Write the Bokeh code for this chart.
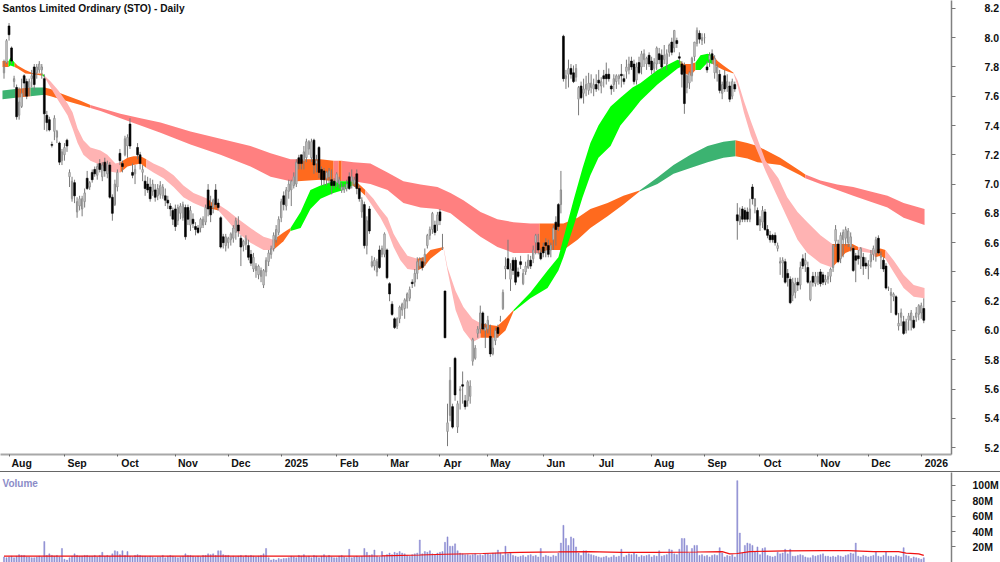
from bokeh.plotting import figure
from bokeh.layouts import column
from bokeh.models import FixedTicker, Range1d, Label
from bokeh.embed import file_html
from bokeh.resources import INLINE

opens = [
7.76,7.83,8.08,7.93,7.70,7.66,7.47,7.53,7.74,7.70,
7.66,7.72,7.80,7.76,7.78,7.78,7.72,7.47,7.44,7.27,
7.36,7.32,7.28,7.16,7.20,7.30,7.05,6.90,7.01,6.81,
6.85,6.83,6.88,7.04,6.98,7.08,7.10,7.06,7.14,7.05,
7.15,7.07,7.13,6.91,6.86,6.98,7.21,7.14,7.20,7.26,
7.41,7.08,7.07,7.25,7.20,7.08,7.02,7.00,6.98,6.95,
6.96,6.92,6.93,6.92,6.92,6.89,6.85,6.82,6.83,6.75,
6.80,6.77,6.84,6.84,6.72,6.76,6.71,6.70,6.70,6.72,
6.74,6.96,6.85,6.84,6.96,6.87,6.77,6.64,6.58,6.60,
6.62,6.63,6.67,6.72,6.63,6.58,6.59,6.58,6.52,6.42,
6.41,6.38,6.37,6.31,6.40,6.47,6.52,6.56,6.62,6.67,
6.77,6.92,6.85,6.95,6.96,6.99,7.00,7.18,7.20,7.16,
7.18,7.24,7.18,7.30,7.14,7.25,7.10,7.09,7.04,7.05,
7.03,7.02,7.01,7.00,6.96,6.96,6.97,7.05,7.02,7.00,
7.07,6.97,6.81,6.86,6.58,6.83,6.44,6.44,6.40,6.55,
6.52,6.52,6.55,6.32,6.18,6.08,6.03,6.08,6.14,6.15,
6.20,6.22,6.33,6.33,6.39,6.44,6.47,6.47,6.58,6.65,
6.69,6.72,6.72,6.81,6.56,6.27,5.31,5.42,5.48,5.81,
5.34,5.59,5.63,5.52,5.52,5.55,5.79,5.81,5.98,6.01,
6.12,6.00,6.01,5.96,5.84,5.93,6.02,6.07,6.15,6.42,
6.49,6.35,6.48,6.48,6.40,6.47,6.32,6.40,6.43,6.48,
6.49,6.60,6.60,6.53,6.57,6.60,6.58,6.55,6.62,6.74,
6.86,6.86,8.01,7.72,7.75,7.79,7.76,7.73,7.58,7.67,
7.62,7.65,7.64,7.66,7.65,7.68,7.71,7.67,7.74,7.75,
7.75,7.67,7.68,7.70,7.72,7.75,7.72,7.77,7.78,7.84,
7.82,7.71,7.83,7.80,7.85,7.82,7.88,7.84,7.79,7.82,
7.89,7.88,7.85,7.82,7.90,7.97,7.93,7.98,7.87,7.82,
7.81,7.66,7.69,7.74,7.87,7.96,8.03,7.98,8.00,7.80,
7.85,7.89,7.76,7.76,7.75,7.62,7.74,7.66,7.67,7.60,
7.68,6.79,6.74,6.83,6.82,6.81,6.76,6.98,6.85,6.82,
6.72,6.74,6.81,6.69,6.65,6.65,6.65,6.56,6.46,6.46,
6.47,6.39,6.35,6.24,6.26,6.33,6.31,6.49,6.45,6.43,
6.21,6.37,6.32,6.33,6.40,6.38,6.33,6.35,6.37,6.43,
6.61,6.59,6.49,6.62,6.63,6.60,6.57,6.56,6.51,6.51,
6.50,6.50,6.46,6.44,6.47,6.52,6.53,6.63,6.50,6.48,
6.44,6.29,6.24,6.23,6.23,6.03,6.09,6.06,6.00,6.07,
6.07,6.07,6.09,6.11,6.12,6.15]

highs = [
7.85,7.99,8.10,7.94,7.74,7.68,7.66,7.72,7.75,7.72,
7.72,7.78,7.82,7.82,7.84,7.82,7.75,7.50,7.46,7.29,
7.47,7.37,7.29,7.24,7.28,7.31,7.10,7.05,7.03,6.91,
6.92,6.92,6.97,7.09,7.02,7.10,7.12,7.14,7.17,7.15,
7.18,7.16,7.15,6.93,7.03,7.10,7.24,7.16,7.33,7.34,
7.45,7.14,7.13,7.28,7.22,7.13,7.06,7.05,7.04,7.03,
7.00,7.00,7.02,7.00,6.97,6.92,6.87,6.84,6.86,6.86,
6.87,6.88,6.86,6.86,6.85,6.80,6.74,6.72,6.77,6.78,
6.86,7.00,6.92,6.90,7.00,6.90,6.78,6.66,6.66,6.64,
6.67,6.72,6.77,6.78,6.65,6.62,6.65,6.62,6.55,6.53,
6.46,6.45,6.43,6.42,6.50,6.55,6.58,6.67,6.72,6.78,
6.90,6.95,6.98,7.03,7.03,7.08,7.17,7.20,7.20,7.26,
7.31,7.30,7.31,7.31,7.20,7.26,7.12,7.11,7.09,7.11,
7.10,7.04,7.08,7.05,7.01,7.00,7.03,7.08,7.10,7.05,
7.10,6.99,6.91,6.88,6.78,6.85,6.51,6.50,6.49,6.58,
6.58,6.67,6.56,6.33,6.20,6.09,6.09,6.17,6.19,6.22,
6.26,6.30,6.35,6.42,6.50,6.50,6.50,6.56,6.66,6.71,
6.81,6.75,6.81,6.83,6.66,6.27,5.50,5.75,5.50,5.82,
5.52,5.62,5.72,5.56,5.66,5.66,5.95,5.90,6.03,6.17,
6.13,6.05,6.10,6.04,5.95,6.02,6.04,6.10,6.28,6.50,
6.62,6.46,6.50,6.50,6.43,6.51,6.42,6.47,6.52,6.51,
6.58,6.66,6.66,6.56,6.60,6.63,6.62,6.60,6.72,6.78,
6.87,7.09,8.02,7.78,7.85,7.82,7.81,7.82,7.67,7.70,
7.72,7.74,7.76,7.75,7.72,7.75,7.78,7.73,7.78,7.83,
7.79,7.68,7.75,7.75,7.75,7.82,7.75,7.85,7.87,7.87,
7.85,7.83,7.87,7.91,7.92,7.87,7.90,7.87,7.86,7.94,
7.93,7.92,7.95,7.92,7.96,8.00,8.05,8.00,7.90,7.84,
7.83,7.75,7.77,7.87,7.97,8.07,8.05,8.03,8.03,7.84,
7.90,7.92,7.88,7.82,7.78,7.70,7.78,7.75,7.70,7.72,
7.70,6.87,6.84,6.85,6.84,6.84,6.90,7.00,6.90,6.84,
6.78,6.85,6.83,6.72,6.68,6.66,6.67,6.60,6.50,6.50,
6.49,6.42,6.37,6.36,6.36,6.36,6.47,6.52,6.53,6.47,
6.34,6.40,6.40,6.40,6.42,6.40,6.38,6.40,6.43,6.59,
6.72,6.62,6.67,6.69,6.71,6.70,6.67,6.58,6.53,6.55,
6.57,6.53,6.50,6.48,6.55,6.58,6.64,6.65,6.54,6.50,
6.46,6.30,6.29,6.26,6.24,6.12,6.15,6.10,6.08,6.12,
6.14,6.10,6.16,6.18,6.19,6.22]

lows = [
7.72,7.82,7.98,7.82,7.66,7.44,7.44,7.52,7.60,7.58,
7.60,7.66,7.64,7.72,7.76,7.72,7.37,7.36,7.36,7.25,
7.30,7.28,7.13,7.13,7.16,7.22,6.98,6.88,6.87,6.77,
6.82,6.78,6.84,6.96,6.96,7.01,7.05,7.03,7.08,7.02,
7.05,7.04,6.90,6.75,6.85,6.95,7.13,7.08,7.19,7.18,
7.24,7.04,7.00,7.17,7.10,7.02,6.92,6.94,6.88,6.92,
6.88,6.89,6.90,6.90,6.85,6.83,6.78,6.72,6.68,6.72,
6.76,6.75,6.62,6.72,6.68,6.70,6.65,6.66,6.67,6.70,
6.72,6.78,6.74,6.80,6.84,6.82,6.56,6.56,6.54,6.56,
6.58,6.60,6.62,6.64,6.44,6.54,6.55,6.48,6.44,6.40,
6.36,6.35,6.33,6.29,6.37,6.44,6.49,6.54,6.60,6.65,
6.74,6.82,6.82,6.90,6.85,6.97,6.98,7.10,7.10,7.10,
7.15,7.20,7.15,7.07,7.08,7.04,6.99,6.99,6.99,7.00,
6.93,6.97,6.98,6.97,6.94,6.94,6.95,6.96,6.97,6.98,
6.93,6.88,6.77,6.56,6.52,6.66,6.43,6.41,6.37,6.42,
6.50,6.50,6.35,6.20,6.10,6.01,6.01,6.05,6.10,6.08,
6.15,6.20,6.29,6.30,6.35,6.42,6.41,6.44,6.56,6.62,
6.66,6.65,6.68,6.72,6.55,5.95,5.21,5.38,5.33,5.52,
5.30,5.46,5.50,5.46,5.48,5.50,5.76,5.80,5.95,5.98,
6.00,5.88,5.98,5.82,5.83,5.90,5.95,6.06,6.14,6.35,
6.42,6.27,6.38,6.31,6.36,6.42,6.31,6.38,6.42,6.42,
6.46,6.52,6.52,6.48,6.50,6.50,6.50,6.50,6.55,6.58,
6.68,6.80,7.70,7.65,7.66,7.72,7.69,7.70,7.47,7.58,
7.55,7.60,7.61,7.62,7.60,7.63,7.64,7.62,7.66,7.68,
7.70,7.61,7.63,7.65,7.68,7.66,7.68,7.72,7.75,7.78,
7.68,7.68,7.75,7.75,7.80,7.78,7.80,7.75,7.76,7.78,
7.82,7.78,7.82,7.78,7.87,7.88,7.90,7.93,7.82,7.66,
7.48,7.62,7.65,7.70,7.84,7.94,7.96,7.95,7.96,7.76,
7.80,7.82,7.72,7.70,7.62,7.58,7.63,7.63,7.56,7.58,
7.63,6.62,6.72,6.74,6.74,6.74,6.74,6.86,6.80,6.72,
6.68,6.70,6.68,6.63,6.60,6.60,6.58,6.54,6.38,6.36,
6.32,6.30,6.18,6.20,6.22,6.27,6.28,6.42,6.40,6.32,
6.20,6.30,6.30,6.31,6.30,6.31,6.31,6.32,6.33,6.40,
6.57,6.46,6.46,6.50,6.58,6.57,6.54,6.40,6.33,6.45,
6.42,6.38,6.42,6.35,6.43,6.48,6.47,6.52,6.42,6.40,
6.28,6.27,6.12,6.20,6.10,6.00,6.03,5.97,5.98,6.00,
6.00,6.01,6.06,6.07,6.08,6.05]

closes = [
7.80,7.98,8.02,7.84,7.72,7.46,7.56,7.62,7.69,7.60,
7.70,7.74,7.68,7.80,7.82,7.80,7.48,7.42,7.37,7.265,
7.45,7.36,7.15,7.22,7.25,7.26,7.08,7.02,6.92,6.88,
6.90,6.90,6.94,6.97,7.01,7.03,7.07,7.12,7.10,7.13,
7.09,7.14,6.91,6.80,7.00,7.08,7.16,7.12,7.31,7.32,
7.26,7.06,7.10,7.20,7.14,7.10,6.97,6.96,6.90,7.00,
6.91,6.97,6.99,6.98,6.89,6.87,6.83,6.76,6.71,6.84,
6.85,6.86,6.64,6.76,6.82,6.73,6.69,6.67,6.76,6.76,
6.84,6.83,6.79,6.89,6.86,6.84,6.57,6.60,6.64,6.63,
6.66,6.70,6.75,6.68,6.57,6.61,6.63,6.50,6.46,6.50,
6.44,6.44,6.41,6.41,6.48,6.53,6.56,6.65,6.69,6.76,
6.88,6.86,6.96,7.00,7.02,7.05,7.15,7.14,7.14,7.22,
7.29,7.29,7.29,7.13,7.16,7.08,7.03,7.03,7.08,7.09,
6.99,6.99,7.07,7.03,6.98,6.98,7.00,6.97,7.05,7.03,
6.97,6.90,6.89,6.58,6.75,6.68,6.47,6.48,6.47,6.43,
6.56,6.66,6.36,6.25,6.11,6.02,6.08,6.16,6.18,6.21,
6.25,6.28,6.32,6.39,6.47,6.48,6.43,6.52,6.65,6.69,
6.80,6.67,6.79,6.75,6.56,5.95,5.37,5.66,5.34,5.56,
5.50,5.60,5.62,5.48,5.65,5.62,5.94,5.88,6.01,6.12,
6.01,6.02,6.07,5.84,5.88,6.00,5.98,6.07,6.26,6.44,
6.42,6.42,6.41,6.33,6.37,6.45,6.39,6.44,6.48,6.44,
6.55,6.65,6.55,6.49,6.53,6.58,6.52,6.58,6.70,6.69,
6.71,6.96,7.72,7.74,7.79,7.75,7.70,7.79,7.66,7.59,
7.65,7.68,7.69,7.69,7.68,7.65,7.69,7.70,7.72,7.72,
7.72,7.65,7.72,7.74,7.74,7.74,7.70,7.80,7.82,7.80,
7.70,7.80,7.76,7.89,7.89,7.86,7.82,7.78,7.83,7.93,
7.85,7.80,7.88,7.89,7.95,7.90,8.05,7.96,7.86,7.75,
7.55,7.74,7.76,7.86,7.97,8.05,7.99,8.00,8.00,7.78,
7.88,7.85,7.86,7.80,7.64,7.68,7.65,7.70,7.58,7.70,
7.65,6.75,6.78,6.76,6.76,6.76,6.83,6.90,6.90,6.72,
6.76,6.82,6.69,6.65,6.62,6.62,6.60,6.58,6.47,6.48,
6.33,6.36,6.19,6.33,6.32,6.31,6.43,6.44,6.48,6.33,
6.33,6.33,6.37,6.37,6.32,6.33,6.35,6.37,6.42,6.58,
6.69,6.47,6.65,6.67,6.69,6.68,6.64,6.41,6.48,6.49,
6.56,6.44,6.44,6.45,6.52,6.56,6.62,6.53,6.51,6.42,
6.29,6.29,6.26,6.25,6.11,6.05,6.12,5.98,6.06,6.10,
6.12,6.02,6.12,6.17,6.17,6.07]

volumes = [
7,6,7,8,6,8,10,9,9,7,
7,6,6,7,8,7,27,9,11,9,
8,9,7,18,4,3,6,8,11,9,
8,8,9,9,8,8,9,7,9,13,
8,9,8,11,15,14,10,15,9,14,
8,7,9,10,9,8,8,7,8,7,
6,7,7,9,6,8,9,8,7,6,
7,8,11,9,9,8,7,8,7,9,
9,11,10,11,9,15,15,10,9,9,
7,8,7,8,9,7,9,8,9,8,
7,8,9,11,18,6,3,4,3,5,
4,5,5,6,8,7,6,9,8,10,
7,8,6,9,8,6,8,10,7,9,
7,6,6,8,9,7,6,17,6,7,
8,7,8,18,13,9,10,16,8,7,
14,8,10,12,10,13,12,14,12,11,
9,8,10,11,12,29,11,14,13,15,
11,10,12,13,14,26,33,21,21,24,
15,12,11,10,10,9,10,11,9,10,
9,11,11,10,12,12,16,12,9,21,
11,12,9,8,7,8,9,7,9,10,
8,9,7,18,7,9,8,7,9,8,
12,25,48,31,22,33,31,20,12,9,
15,15,11,10,9,8,7,6,7,8,
6,7,9,7,8,17,7,9,11,10,
12,10,7,9,8,9,10,7,9,8,
15,8,9,10,17,16,11,10,17,31,
31,22,12,18,22,22,9,10,8,9,
7,9,10,9,19,12,7,9,8,10,
7,106,38,12,22,25,24,22,14,20,
10,18,19,9,8,7,8,13,11,12,
17,11,17,8,8,9,10,9,7,6,
6,9,8,9,10,11,8,8,7,8,
7,9,8,7,9,10,12,11,25,8,
7,9,8,7,8,9,14,8,7,9,
14,8,8,7,9,8,7,19,9,8,
5,7,6,5,4,6]

vol_avg_at = [0,104,140,150,165,175,190,205,220,232,245,258,275,285,288,291,296,310,325,335,345,355,358,363,365]
vol_avg = [8,8,8,8.5,9.5,10.5,11.5,13,13.5,14,13,13,13.4,14,11,11.5,14,15,15.3,15.3,14,14,12,11,9]

long_at = [-0.6,4.6,10.5,16.1,18.5,22.4,30.4,34.3,38.3,46.2,54.2,62.1,74,85.9,97.8,105.8,113.7,116.5,125.6,130.8,132.8,134,138.7,145.4,152.2,158.5,165.3,172,177.2,182.3,189.1,195.8,202.2,208.9,212.5,215.7,222,227.6,232.7,239.5,245.8,252.2,259.3,265.7,272.4,279.2,285.5,290.3,295,299,308,316,318,324,330.7,337,343.9,350.6,357,365.3]
long_top = [7.64,7.65,7.66,7.66,7.65,7.62,7.57,7.54,7.52,7.48,7.45,7.42,7.36,7.31,7.26,7.21,7.17,7.17,7.17,7.16,7.16,7.16,7.15,7.14,7.08,7.02,6.997,6.98,6.94,6.89,6.81,6.76,6.74,6.73,6.73,6.73,6.73,6.77,6.83,6.87,6.92,6.956,7.045,7.13,7.20,7.26,7.29,7.30,7.28,7.26,7.18,7.09,7.065,7.025,6.997,6.98,6.95,6.92,6.87,6.83]
long_bot = [7.58,7.59,7.60,7.61,7.60,7.58,7.54,7.52,7.50,7.45,7.40,7.35,7.27,7.20,7.12,7.05,7.02,7.02,7.03,7.02,7.02,7.02,7.02,7.00,6.96,6.87,6.84,6.83,6.80,6.73,6.64,6.57,6.53,6.53,6.53,6.55,6.55,6.62,6.70,6.78,6.86,6.95,7.00,7.07,7.11,7.15,7.18,7.19,7.175,7.15,7.13,7.06,7.04,7.00,6.96,6.92,6.88,6.84,6.77,6.72]
long_breaks = [-0.6,4.6,10.5,16.1,34.3,116.5,130.8,132.8,134,212.5,252.2,290.3,318,365.3]
long_zones = ["green2","orange","green2","orange","red","orange","red","orange","red","orange","green2","orange","red"]

short_at = [-0.6,1.8,2.6,4.2,5.4,8.5,11.7,15.3,16.1,18.5,21.6,25.2,27.2,29.2,31.5,34.3,38.3,41,44.2,46.2,49,51.4,54.2,56.5,59.3,63.3,67.3,71.2,75.2,80.8,82.7,85.1,88.7,92.7,97.8,103,106.9,110.9,113.7,117.7,121.6,125.6,130.8,134.7,138.3,140.3,143.4,146.6,149.4,152.2,154.6,157.3,160.1,164.1,166.5,169.2,174.4,176,179.2,182.3,185.9,189.1,192.3,195.8,199,202.2,208.9,215.7,220,222,226,229.6,232.7,235.9,240.7,244.6,249.4,252.6,259.3,267.3,268.5,269.7,272.4,274.4,276.4,279.2,281.2,283.2,285.5,289.5,291.1,293.6,296.4,302.2,307.3,310.8,314.9,318.8,324,328.7,331.9,333.9,336.7,339,339.9,343.9,345.8,347.8,349.8,353,357,361,365.3]
short_top = [7.84,7.84,7.865,7.83,7.81,7.78,7.755,7.755,7.74,7.70,7.64,7.55,7.49,7.38,7.30,7.25,7.23,7.20,7.14,7.15,7.18,7.19,7.19,7.17,7.14,7.11,7.06,6.99,6.94,6.90,6.87,6.86,6.82,6.765,6.70,6.64,6.62,6.67,6.70,6.81,6.96,6.99,7.02,7.02,7.02,7.01,6.96,6.90,6.83,6.77,6.66,6.58,6.51,6.49,6.50,6.55,6.57,6.43,6.27,6.16,6.08,6.05,6.04,6.03,6.08,6.14,6.26,6.41,6.50,6.63,6.89,7.11,7.28,7.40,7.53,7.59,7.66,7.69,7.78,7.85,7.84,7.82,7.82,7.83,7.88,7.89,7.88,7.84,7.81,7.76,7.71,7.57,7.43,7.16,7.04,6.91,6.81,6.74,6.65,6.59,6.59,6.59,6.59,6.57,6.57,6.55,6.55,6.56,6.55,6.48,6.38,6.31,6.29]
short_bot = [7.80,7.80,7.81,7.80,7.79,7.755,7.75,7.74,7.73,7.66,7.57,7.47,7.38,7.28,7.20,7.16,7.13,7.09,7.08,7.08,7.12,7.13,7.14,7.11,7.08,7.04,6.98,6.91,6.87,6.83,6.83,6.82,6.75,6.67,6.60,6.55,6.55,6.61,6.68,6.70,6.83,6.90,6.94,6.96,6.99,6.97,6.92,6.84,6.77,6.68,6.57,6.48,6.42,6.41,6.43,6.49,6.56,6.41,6.14,6.00,5.92,5.95,5.95,5.95,6.00,6.13,6.22,6.29,6.41,6.50,6.71,6.91,7.06,7.18,7.26,7.40,7.50,7.57,7.68,7.79,7.80,7.76,7.74,7.78,7.78,7.83,7.82,7.80,7.78,7.755,7.67,7.49,7.33,7.09,6.90,6.77,6.62,6.53,6.46,6.43,6.49,6.53,6.55,6.55,6.54,6.53,6.50,6.51,6.49,6.40,6.29,6.23,6.22]
short_breaks = [-0.6,1.8,4.2,15.3,16.1,46.2,56.5,80.8,85.1,106.9,113.7,138.3,143.4,164.1,174.4,189.1,202.2,268.5,274.4,281.2,289.5,328.7,339,345.8,349.8,365.3]
short_zones = ["orange","green","orange","green","pink","orange","pink","orange","pink","orange","green","orange","pink","orange","pink","orange","green","orange","green","orange","pink","orange","pink","orange","pink"]
zone_colors = {"green":"#00ff00","green2":"#3cb371","orange":"#ff6a1e","pink":"#ffb3b3","red":"#ff8080"}

price_ticks = [5.2,5.4,5.6,5.8,6.0,6.2,6.4,6.6,6.8,7.0,7.2,7.4,7.6,7.8,8.0,8.2]
volume_ticks = [20,40,60,80,100]
volume_tick_labels = ["20M","40M","60M","80M","100M"]
month_at = [2,24,45,68,89,110,132,152,173,192,214,234,257,278,300,323,343,364]
month_labels = ["Aug","Sep","Oct","Nov","Dec","2025","Feb","Mar","Apr","May","Jun","Jul","Aug","Sep","Oct","Nov","Dec","2026"]
title_text = "Santos Limited Ordinary (STO) - Daily"

n = len(closes)
assert n == len(opens) == len(highs) == len(lows) == len(volumes)
bars = list(range(n))
xr = Range1d(-1.39, 376)

p = figure(frame_width=951, frame_height=454, x_range=xr, y_range=Range1d(5.153, 8.254),
           output_backend="svg", toolbar_location=None, y_axis_location="right",
           min_border_left=0, min_border_top=0, min_border_bottom=0, min_border_right=0,
           outline_line_color=None)
p.grid.visible = False


def ribbon(fig, at, top, bot, breaks, zones):
    for k, zone in enumerate(zones):
        idx = [j for j, a in enumerate(at) if breaks[k] <= a <= breaks[k + 1]]
        fig.varea([at[j] for j in idx], [top[j] for j in idx], [bot[j] for j in idx],
                  fill_color=zone_colors[zone])


ribbon(p, long_at, long_top, long_bot, long_breaks, long_zones)
ribbon(p, short_at, short_top, short_bot, short_breaks, short_zones)

up = [i for i in bars if closes[i] >= opens[i]]
dn = [i for i in bars if closes[i] < opens[i]]
p.segment(bars, lows, bars, highs, line_color="#7a7a7a", line_width=1)
p.vbar([bars[i] for i in up], 0.5, [opens[i] for i in up], [closes[i] for i in up],
       fill_color="white", line_color="#8c8c8c", line_width=1)
p.vbar([bars[i] for i in dn], 0.75, [closes[i] for i in dn], [opens[i] for i in dn],
       fill_color="black", line_color="black", line_width=0.6)

month_label_at = [a + (6 if len(t) == 4 else 5) for a, t in zip(month_at, month_labels)]
p.xaxis.ticker = FixedTicker(ticks=month_label_at, minor_ticks=month_at)
p.xaxis.major_label_overrides = dict(zip(month_label_at, month_labels))
p.xaxis.major_tick_line_color = None
p.xaxis.major_tick_in = 0
p.xaxis.major_tick_out = 0
p.xaxis.minor_tick_in = 0
p.xaxis.minor_tick_out = 2
p.xaxis.minor_tick_line_color = "#666666"
p.xaxis.axis_line_color = "#a8a8a8"
p.xaxis.axis_line_width = 2
p.xaxis.major_label_standoff = 0
p.xaxis.major_label_text_font = "Liberation Sans"
p.xaxis.major_label_text_font_size = "10.5px"
p.xaxis.major_label_text_font_style = "bold"
p.xaxis.major_label_text_color = "#111111"

p.yaxis.ticker = FixedTicker(ticks=price_ticks)
p.yaxis.major_label_overrides = {v: f"{v:.1f}" for v in price_ticks}
p.yaxis.major_tick_in = 0
p.yaxis.major_tick_out = 4
p.yaxis.minor_tick_line_color = None
p.yaxis.major_tick_line_color = "#777777"
p.yaxis.axis_line_color = "#808080"
p.yaxis.axis_line_width = 1.5
p.yaxis.major_label_standoff = 29
p.yaxis.major_label_text_font = "Liberation Sans"
p.yaxis.major_label_text_font_size = "10.5px"
p.yaxis.major_label_text_font_style = "bold"
p.yaxis.major_label_text_color = "#111111"

p.add_layout(Label(x=2, y=441, x_units="screen", y_units="screen", text=title_text,
                   text_font="Liberation Sans", text_font_size="10.2px", text_font_style="bold",
                   text_color="#111111"))

v = figure(frame_width=951, frame_height=91, x_range=xr, y_range=Range1d(-2.8, 116.6),
           output_backend="svg", toolbar_location=None, y_axis_location="right",
           min_border_left=0, min_border_top=0, min_border_bottom=0, min_border_right=0,
           outline_line_color=None)
v.grid.visible = False
v.xaxis.visible = False
v.vbar(bars, 0.42, 0, volumes, fill_color="#8c8cd2", line_color="#8c8cd2", line_width=0.5)
v.line(vol_avg_at, vol_avg, line_color="#f01010", line_width=1.2)
v.yaxis.ticker = FixedTicker(ticks=volume_ticks)
v.yaxis.major_label_overrides = dict(zip(volume_ticks, volume_tick_labels))
v.yaxis.major_tick_in = 0
v.yaxis.major_tick_out = 4
v.yaxis.minor_tick_line_color = None
v.yaxis.major_tick_line_color = "#777777"
v.yaxis.axis_line_color = "#808080"
v.yaxis.axis_line_width = 1.5
v.yaxis.major_label_standoff = 17
v.yaxis.major_label_text_font = "Liberation Sans"
v.yaxis.major_label_text_font_size = "10.5px"
v.yaxis.major_label_text_font_style = "bold"
v.yaxis.major_label_text_color = "#111111"
v.styles = {"border-top": "1px solid #666666"}
v.add_layout(Label(x=2, y=76, x_units="screen", y_units="screen", text="Volume",
                   text_font="Liberation Sans", text_font_size="10px", text_font_style="bold",
                   text_color="#8c8cc8"))

page = column(p, v, spacing=0)
open("out.html", "w").write(file_html(page, INLINE))
